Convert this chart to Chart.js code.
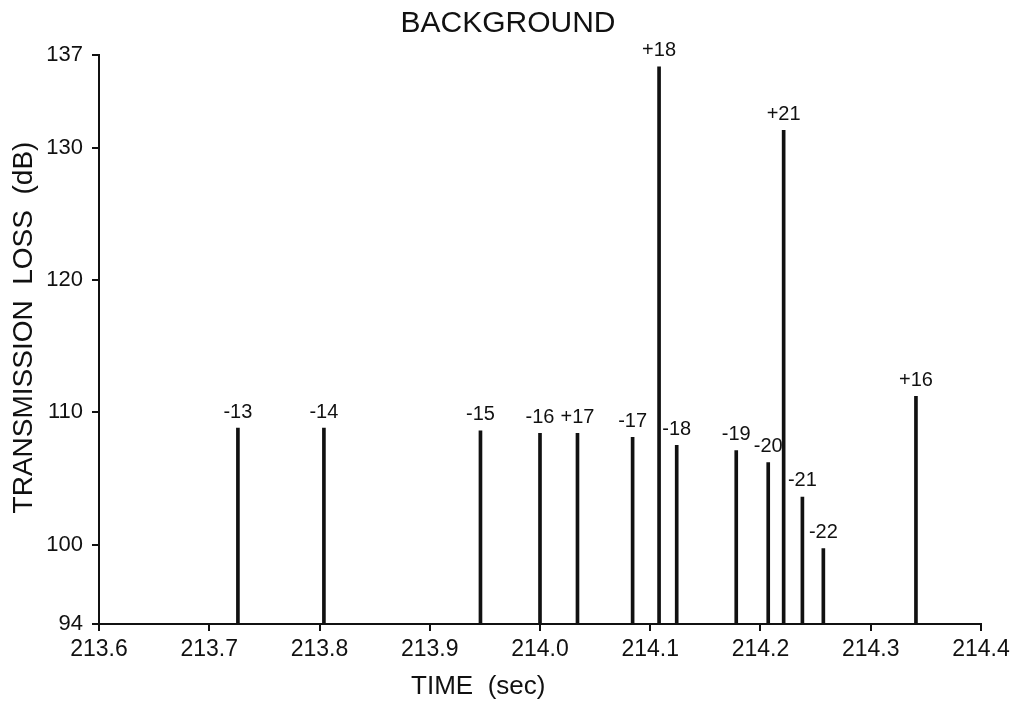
<!DOCTYPE html>
<html>
<head>
<meta charset="utf-8">
<title>Background – Transmission Loss</title>
<script src="https://cdn.jsdelivr.net/npm/chart.js@4/dist/chart.umd.min.js"></script>
<style>
  html, body { margin: 0; padding: 0; background: #fff; }
  #wrap { width: 1017px; height: 702px; }
</style>
</head>
<body>
<div id="wrap"><canvas id="c" width="1017" height="702"></canvas></div>
<script>
// Arrival times of each ray path (sec)
const times = [213.726, 213.804, 213.946, 214.000, 214.034, 214.084, 214.108, 214.124,
               214.178, 214.207, 214.221, 214.238, 214.257, 214.341];
// Transmission loss of each arrival (dB)
const losses = [108.8, 108.8, 108.6, 108.4, 108.4, 108.1, 136.1, 107.5,
                107.1, 106.2, 131.3, 103.6, 99.7, 111.2];
// Ray identifiers printed above each arrival
const rayLabels = ['-13', '-14', '-15', '-16', '+17', '-17', '+18', '-18',
                   '-19', '-20', '+21', '-21', '-22', '+16'];
// Axis ticks
const yTicks = [94, 100, 110, 120, 130, 137];
const xTicks = [213.6, 213.7, 213.8, 213.9, 214.0, 214.1, 214.2, 214.3, 214.4];

const FONT = "'Liberation Sans', Arial, sans-serif";
const INK = '#111';

// Ray labels, titles drawn on top of the chart
const annotate = {
  id: 'annotate',
  afterDatasetsDraw(chart) {
    const ctx = chart.ctx;
    const meta = chart.getDatasetMeta(0);
    ctx.save();
    ctx.fillStyle = INK;
    ctx.textAlign = 'center';
    ctx.textBaseline = 'middle';
    ctx.font = '20px ' + FONT;
    meta.data.forEach((bar, i) => {
      ctx.fillText(rayLabels[i], bar.x, bar.y - 16);
    });
    ctx.restore();
  },
  afterDraw(chart) {
    const ctx = chart.ctx;
    const a = chart.chartArea;
    ctx.save();
    ctx.fillStyle = INK;
    ctx.textAlign = 'center';
    ctx.textBaseline = 'middle';
    // chart title
    ctx.font = '30px ' + FONT;
    ctx.fillText('BACKGROUND', 508, 24);
    // x-axis title
    ctx.font = '26px ' + FONT;
    ctx.fillText('TIME  (sec)', a.left + (a.right - a.left) * 0.43, 687);
    // y-axis title
    ctx.font = '28px ' + FONT;
    ctx.translate(24, (a.top + a.bottom) / 2 - 12);
    ctx.rotate(-Math.PI / 2);
    ctx.fillText('TRANSMISSION  LOSS  (dB)', 0, 0);
    ctx.restore();
  }
};

new Chart(document.getElementById('c'), {
  type: 'bar',
  data: {
    datasets: [{
      data: times.map((t, i) => ({ x: t, y: losses[i] })),
      backgroundColor: INK,
      borderWidth: 0,
      barThickness: 3
    }]
  },
  options: {
    responsive: false,
    animation: false,
    layout: { padding: { top: 55, right: 36, left: 0, bottom: 0 } },
    plugins: {
      legend: { display: false },
      title: { display: false },
      tooltip: { enabled: false }
    },
    scales: {
      x: {
        type: 'linear',
        position: 'bottom',
        offset: false,
        min: 213.6,
        max: 214.4,
        afterBuildTicks: s => { s.ticks = xTicks.map(v => ({ value: v })); },
        afterFit: s => { s.height = 78; },
        ticks: {
          autoSkip: false,
          maxRotation: 0,
          padding: 5,
          color: INK,
          font: { family: FONT, size: 23 },
          callback: v => Number(v).toFixed(1)
        },
        grid: {
          display: true,
          offset: false,
          drawOnChartArea: false,
          drawTicks: true,
          tickLength: 7,
          color: INK,
          lineWidth: 2
        },
        border: { display: true, color: INK, width: 2 }
      },
      y: {
        type: 'linear',
        min: 94,
        max: 137,
        afterBuildTicks: s => { s.ticks = yTicks.map(v => ({ value: v })); },
        afterFit: s => { s.width = 99; },
        ticks: {
          autoSkip: false,
          padding: 9,
          color: INK,
          font: { family: FONT, size: 22 }
        },
        grid: {
          display: true,
          drawOnChartArea: false,
          drawTicks: true,
          tickLength: 7,
          color: INK,
          lineWidth: 2
        },
        border: { display: true, color: INK, width: 2 }
      }
    }
  },
  plugins: [annotate]
});
</script>
</body>
</html>
